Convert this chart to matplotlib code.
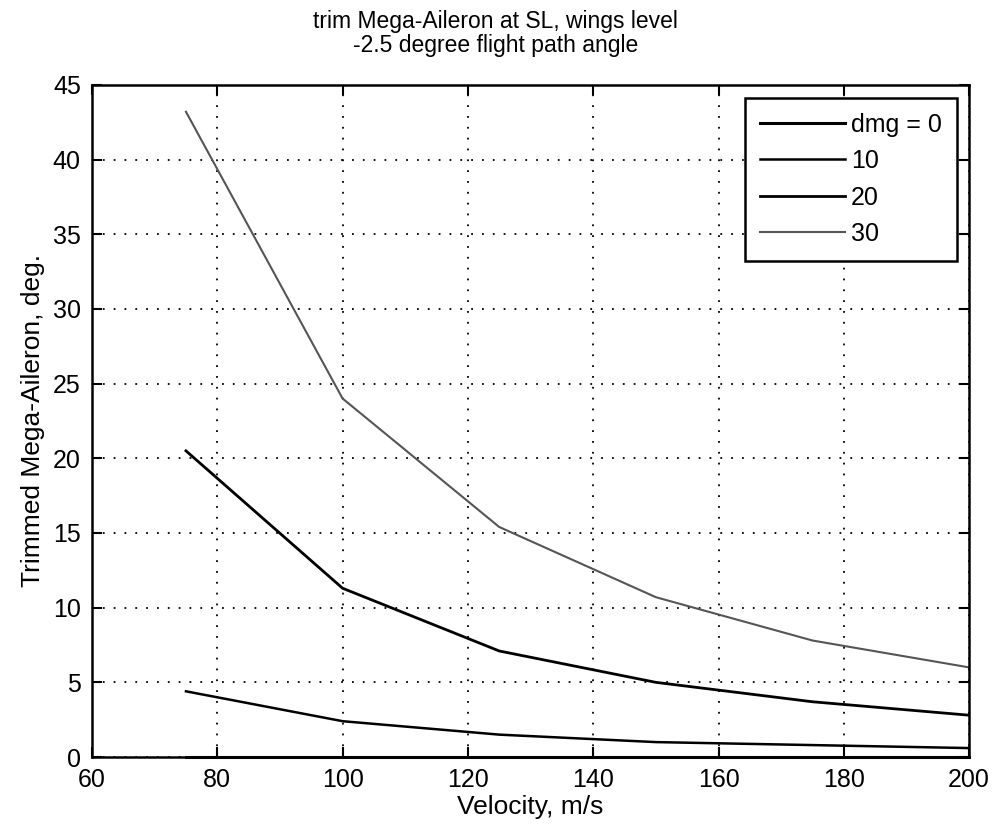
import matplotlib
matplotlib.use("Agg")
import matplotlib.pyplot as plt
from matplotlib.ticker import MultipleLocator

velocity = [75, 100, 125, 150, 175, 200]
dmg0 = [0.0, 0.0, 0.0, 0.0, 0.0, 0.0]
dmg10 = [4.4, 2.4, 1.5, 1.0, 0.8, 0.6]
dmg20 = [20.5, 11.3, 7.1, 5.0, 3.7, 2.8]
dmg30 = [43.2, 24.0, 15.4, 10.7, 7.8, 6.0]
labels = ["dmg = 0", "10", "20", "30"]

plt.rcParams['font.family'] = ['Liberation Sans', 'DejaVu Sans']

fig = plt.figure(figsize=(9.92, 8.32), dpi=100)
ax = fig.add_axes([0.0927, 0.0901, 0.977 - 0.0927, 0.898 - 0.0901])

ax.plot(velocity, dmg0, color='black', lw=2.2, label=labels[0], clip_on=False, zorder=3)
ax.plot(velocity, dmg10, color='black', lw=1.8, label=labels[1])
ax.plot(velocity, dmg20, color='black', lw=2.0, label=labels[2])
ax.plot(velocity, dmg30, color='#555555', lw=1.5, label=labels[3])

ax.set_xlim(60, 200)
ax.set_ylim(0, 45)
ax.xaxis.set_major_locator(MultipleLocator(20))
ax.yaxis.set_major_locator(MultipleLocator(5))
ax.grid(True, color='black', linestyle=(0, (1, 5)), linewidth=1.3)
ax.tick_params(direction='in', length=7, width=1.5, top=True, right=True,
               labelsize=18)
ax.tick_params(axis='x', pad=8)
ax.tick_params(axis='y', pad=8)
for s in ax.spines.values():
    s.set_linewidth(1.8)

ax.set_xlabel("Velocity, m/s", fontsize=19, labelpad=2)
ax.set_ylabel("Trimmed Mega-Aileron, deg.", fontsize=19, labelpad=6)
ax.set_title("trim Mega-Aileron at SL, wings level\n-2.5 degree flight path angle",
             fontsize=16.5, pad=24, linespacing=1.05, x=0.46)

leg = ax.legend(loc='upper right', bbox_to_anchor=(0.986, 0.981), borderaxespad=0,
                fontsize=18, handlelength=3.4, handletextpad=0.25, labelspacing=0.5,
                borderpad=0.6, fancybox=False, framealpha=1, edgecolor='black')
leg.get_frame().set_linewidth(1.8)

fig.savefig("out.png", dpi=100)
